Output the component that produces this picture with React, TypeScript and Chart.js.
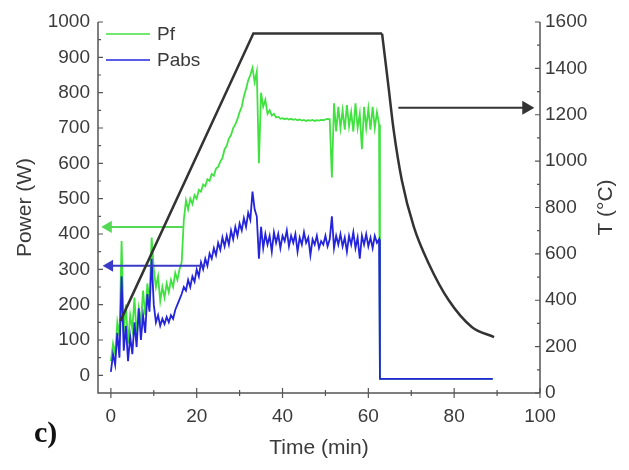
import React, { useEffect, useRef } from "react";
import { Chart, registerables } from "chart.js";

Chart.register(...registerables);

// ---- data ----
const sampleTimes = [
  0, 0.5, 1, 1.5, 2, 2.5, 3, 3.5, 4, 4.5,
  5, 5.5, 6, 6.5, 7, 7.5, 8, 8.5, 9, 9.5,
  10, 10.5, 11, 11.5, 12, 12.5, 13, 13.5, 14, 14.5,
  15, 15.5, 16, 16.5, 17, 17.5, 18, 18.5, 19, 19.5,
  20, 20.5, 21, 21.5, 22, 22.5, 23, 23.5, 24, 24.5,
  25, 25.5, 26, 26.5, 27, 27.5, 28, 28.5, 29, 29.5,
  30, 30.5, 31, 31.5, 32, 32.5, 33, 33.5, 34, 34.5,
  35, 35.5, 36, 36.5, 37, 37.5, 38, 38.5, 39, 39.5,
  40, 40.5, 41, 41.5, 42, 42.5, 43, 43.5, 44, 44.5,
  45, 45.5, 46, 46.5, 47, 47.5, 48, 48.5, 49, 49.5,
  50, 50.5, 51, 51.5, 52, 52.5, 53, 53.5, 54, 54.5,
  55, 55.5, 56, 56.5, 57, 57.5, 58, 58.5, 59, 59.5,
  60, 60.5, 61, 61.5, 62, 62.5, 62.7, 89,
];

const pfValues = [
  40, 90, 60, 150, 110, 380, 120, 200, 90, 170,
  130, 220, 110, 190, 150, 240, 170, 260, 210, 390,
  300, 250, 280, 210, 250, 220, 260, 235, 270, 250,
  290, 270, 300, 320, 440, 495, 470, 500, 485, 510,
  500, 525, 520, 540, 535, 555, 550, 570, 565, 585,
  590, 605, 615, 640, 650, 670, 680, 700, 710, 725,
  745, 760, 790, 810, 835, 850, 870, 830, 860, 600,
  800, 760, 780, 740, 750, 735, 740, 730, 732, 726,
  728, 725, 727, 724, 726, 723, 725, 722, 724, 721,
  723, 720, 722, 721, 723, 720, 722, 721, 723, 722,
  724, 726, 725, 560, 770, 690, 760, 700, 750, 695,
  765, 705, 745, 690, 770, 700, 740, 640, 760, 700,
  755, 695, 760, 700, 745, 710, -10, -10,
];

const pabsValues = [
  10, 60, 30, 120, 50, 280, 70, 140, 40, 110,
  60, 150, 80, 190, 100, 170, 120, 230, 180, 330,
  200, 150, 170, 140, 160, 145, 165, 150, 170, 160,
  185, 200, 215, 230, 250, 240, 270, 250, 280, 265,
  300, 280, 320, 300, 330, 310, 345, 330, 360, 340,
  375, 355, 390, 365, 395, 370, 410, 385, 420, 395,
  430, 410, 445, 420, 460, 440, 520, 470, 450, 330,
  420, 360, 400, 370, 395, 350, 405, 375, 400, 360,
  395, 380, 410, 365, 395, 375, 400, 350, 390, 370,
  405, 375, 390, 340, 385, 370, 395, 360, 380, 370,
  395, 365, 385, 450, 360, 395, 370, 400, 365, 390,
  350, 395, 370, 405, 360, 390, 330, 395, 370, 400,
  365, 390, 360, 395, 375, 385, -10, -10,
];

// temperature: heating ramp + dwell (straight), then cooling (smooth)
const tempRampTimes = [2.2, 33.2, 63.2];
const tempRampValues = [310, 1550, 1550];
const tempCoolTimes = [63.2, 64.7, 65.9, 67.8, 70.6, 74, 78.7, 84.1, 89.3];
const tempCoolValues = [1550, 1320, 1134, 918, 716, 561, 401, 285, 241];

// arrows: [tail, tip]
const arrowPfTimes = [17, -0.6];
const arrowPfValues = [420, 420];
const arrowPabsTimes = [22, -0.3];
const arrowPabsValues = [310, 310];
const arrowTempTimes = [67, 96.8];
const arrowTempValues = [1230, 1230];

const xTickValues = [0, 20, 40, 60, 80, 100];
const powerTickValues = [0, 100, 200, 300, 400, 500, 600, 700, 800, 900, 1000];
const tempTickValues = [0, 200, 400, 600, 800, 1000, 1200, 1400, 1600];

const seriesLabels = ["Pf", "Pabs"];

const GREEN = "#3fe23f";
const BLUE = "#2424dc";
const DARK = "#333333";
const FONT = "'Liberation Sans', Arial, sans-serif";
const TEXT = "#3a3a3a";

const pts = (xs: number[], ys: number[]) => xs.map((x, i) => ({ x, y: ys[i] }));
const plain = (v: any) => String(v);

const customPlugin = {
  id: "customDecor",
  afterDraw(chart: any) {
    const { ctx, chartArea: a, scales } = chart;
    const x = scales.x, y = scales.y, y2 = scales.y2;
    ctx.save();
    ctx.strokeStyle = "#555";
    ctx.lineWidth = 1.5;
    ctx.beginPath();
    ctx.moveTo(a.left, a.top);
    ctx.lineTo(a.left, a.bottom);
    ctx.lineTo(a.right, a.bottom);
    ctx.moveTo(a.right, a.top);
    ctx.lineTo(a.right, a.bottom);
    ctx.stroke();

    ctx.lineWidth = 1.2;
    ctx.beginPath();
    for (let v = 0; v <= 100; v += 10) {
      const px = x.getPixelForValue(v);
      const len = v % 20 === 0 ? 5 : 3;
      ctx.moveTo(px, a.bottom - len);
      ctx.lineTo(px, a.bottom + len);
    }
    for (let v = 0; v <= 1000; v += 50) {
      const py = y.getPixelForValue(v);
      const len = v % 100 === 0 ? 5 : 3;
      ctx.moveTo(a.left, py);
      ctx.lineTo(a.left + len, py);
    }
    for (let v = 0; v <= 1600; v += 100) {
      const py = y2.getPixelForValue(v);
      const len = v % 200 === 0 ? 5 : 3;
      ctx.moveTo(a.right, py);
      ctx.lineTo(a.right - len, py);
    }
    ctx.stroke();

    // titles
    ctx.fillStyle = TEXT;
    ctx.font = `21px ${FONT}`;
    ctx.textAlign = "center";
    ctx.textBaseline = "middle";
    ctx.fillText("Time (min)", (a.left + a.right) / 2, 448);
    ctx.save();
    ctx.translate(25, (a.top + a.bottom) / 2);
    ctx.rotate(-Math.PI / 2);
    ctx.fillText("Power (W)", 0, 0);
    ctx.restore();
    ctx.save();
    ctx.translate(606, (a.top + a.bottom) / 2);
    ctx.rotate(-Math.PI / 2);
    ctx.fillText("T (°C)", 0, 0);
    ctx.restore();

    // legend
    ctx.lineWidth = 1.5;
    ctx.strokeStyle = GREEN;
    ctx.beginPath();
    ctx.moveTo(106, 34);
    ctx.lineTo(150, 34);
    ctx.stroke();
    ctx.strokeStyle = BLUE;
    ctx.beginPath();
    ctx.moveTo(106, 60);
    ctx.lineTo(150, 60);
    ctx.stroke();
    ctx.font = `19px ${FONT}`;
    ctx.textAlign = "left";
    ctx.fillText(seriesLabels[0], 157, 35);
    ctx.fillText(seriesLabels[1], 157, 61);

    // panel label
    ctx.fillStyle = "#111";
    ctx.font = `bold 30px 'Liberation Serif', 'Times New Roman', serif`;
    ctx.textAlign = "left";
    ctx.textBaseline = "alphabetic";
    ctx.fillText("c)", 34, 442);
    ctx.restore();
  },
};

export default function App() {
  const ref = useRef<HTMLCanvasElement>(null);
  useEffect(() => {
    if (!ref.current) return;
    const tickFont = { family: FONT, size: 19 };
    const chart = new Chart(ref.current, {
      type: "line",
      data: {
        datasets: [
          {
            label: "T heating",
            data: pts(tempRampTimes, tempRampValues),
            yAxisID: "y2",
            borderColor: DARK,
            borderWidth: 2.5,
            pointRadius: 0,
            tension: 0,
            order: 0,
          },
          {
            label: "T cooling",
            data: pts(tempCoolTimes, tempCoolValues),
            yAxisID: "y2",
            borderColor: DARK,
            borderWidth: 2.5,
            pointRadius: 0,
            cubicInterpolationMode: "monotone",
            order: 0,
          },
          {
            label: "arrowT",
            data: pts(arrowTempTimes, arrowTempValues),
            yAxisID: "y2",
            borderColor: DARK,
            backgroundColor: DARK,
            borderWidth: 2,
            pointRadius: [0, 6],
            pointStyle: "triangle",
            pointRotation: 90,
            order: 1,
          },
          {
            label: "arrowPf",
            data: pts(arrowPfTimes, arrowPfValues),
            yAxisID: "y",
            borderColor: "#55d855",
            backgroundColor: "#55d855",
            borderWidth: 2,
            pointRadius: [0, 5],
            pointStyle: "triangle",
            pointRotation: 270,
            order: 2,
          },
          {
            label: "arrowPabs",
            data: pts(arrowPabsTimes, arrowPabsValues),
            yAxisID: "y",
            borderColor: "#3a3ac8",
            backgroundColor: "#3a3ac8",
            borderWidth: 2,
            pointRadius: [0, 5],
            pointStyle: "triangle",
            pointRotation: 270,
            order: 3,
          },
          {
            label: seriesLabels[1],
            data: pts(sampleTimes, pabsValues),
            yAxisID: "y",
            borderColor: BLUE,
            borderWidth: 1.8,
            pointRadius: 0,
            order: 4,
          },
          {
            label: seriesLabels[0],
            data: pts(sampleTimes, pfValues),
            yAxisID: "y",
            borderColor: GREEN,
            borderWidth: 1.8,
            pointRadius: 0,
            order: 5,
          },
        ],
      },
      options: {
        animation: false,
        responsive: false,
        layout: { padding: { top: 22, left: 0, right: 0, bottom: 0 } },
        plugins: { legend: { display: false }, tooltip: { enabled: false } },
        scales: {
          x: {
            type: "linear",
            min: -3,
            max: 100,
            grid: { display: false, drawTicks: false },
            border: { display: false },
            ticks: { font: tickFont, color: TEXT, padding: 12, maxRotation: 0, callback: plain },
            afterBuildTicks: (s: any) => { s.ticks = xTickValues.map((v) => ({ value: v })); },
            afterFit: (s: any) => { s.height = 77; },
          },
          y: {
            type: "linear",
            position: "left",
            min: -50,
            max: 1000,
            grid: { display: false, drawTicks: false },
            border: { display: false },
            ticks: { font: tickFont, color: TEXT, padding: 8, callback: plain },
            afterBuildTicks: (s: any) => { s.ticks = powerTickValues.map((v) => ({ value: v })); },
            afterFit: (s: any) => { s.width = 98; },
          },
          y2: {
            type: "linear",
            position: "right",
            min: 0,
            max: 1600,
            grid: { display: false, drawTicks: false },
            border: { display: false },
            ticks: { font: tickFont, color: TEXT, padding: 5, callback: plain },
            afterBuildTicks: (s: any) => { s.ticks = tempTickValues.map((v) => ({ value: v })); },
            afterFit: (s: any) => { s.width = 89; },
          },
        },
      },
      plugins: [customPlugin],
    } as any);
    return () => chart.destroy();
  }, []);
  return (
    <div style={{ position: "fixed", left: 0, top: 0, width: 629, height: 470, background: "#fff" }}>
      <canvas ref={ref} width={629} height={470} />
    </div>
  );
}
